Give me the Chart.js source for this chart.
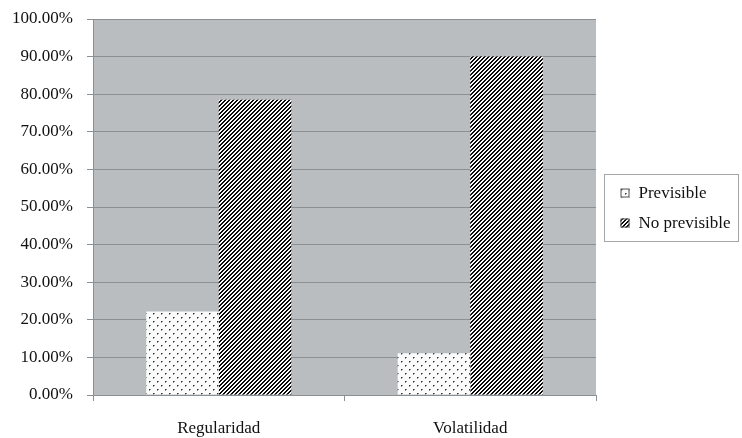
<!DOCTYPE html>
<html>
<head>
<meta charset="utf-8">
<script src="https://cdn.jsdelivr.net/npm/chart.js@4"></script>
<style>
  html, body { margin: 0; padding: 0; background: #ffffff; }
  #wrap { width: 742px; height: 438px; }
</style>
</head>
<body>
<div id="wrap"><canvas id="c" width="742" height="438"></canvas></div>
<script>
// Categories, series and axis ticks
const categories = ['Regularidad', 'Volatilidad'];
const previsible = [22.2, 11.1];
const noPrevisible = [78.5, 90.0];
const seriesNames = ['Previsible', 'No previsible'];
const yTickValues = [0, 10, 20, 30, 40, 50, 60, 70, 80, 90, 100];

const FONT = "'Liberation Serif', 'Times New Roman', serif";
const TEXT = '#111111';
const PLOT_BG = '#b9bdc0';
const GRID = '#8a9093';

// Sparse dotted fill
function dotPattern() {
  const t = document.createElement('canvas');
  t.width = 8; t.height = 8;
  const g = t.getContext('2d');
  g.fillStyle = '#fbfbfb';
  g.fillRect(0, 0, 8, 8);
  g.fillStyle = '#2e2e2e';
  g.fillRect(1, 1, 1, 1);
  g.fillRect(5, 5, 1, 1);
  g.fillStyle = '#8a8a8a';
  g.fillRect(2, 1, 1, 1);
  g.fillRect(1, 2, 1, 1);
  g.fillRect(6, 5, 1, 1);
  g.fillRect(5, 6, 1, 1);
  return g.createPattern(t, 'repeat');
}

// Dense forward-slash hatching
function hatchPattern() {
  const t = document.createElement('canvas');
  t.width = 4; t.height = 4;
  const g = t.getContext('2d');
  const img = g.createImageData(4, 4);
  for (let y = 0; y < 4; y++) {
    for (let x = 0; x < 4; x++) {
      const i = (y * 4 + x) * 4;
      const dark = ((x + y) % 4) < 2;
      const v = dark ? 10 : 250;
      img.data[i] = v; img.data[i + 1] = v; img.data[i + 2] = v; img.data[i + 3] = 255;
    }
  }
  g.putImageData(img, 0, 0);
  return g.createPattern(t, 'repeat');
}

const fills = [dotPattern(), hatchPattern()];

// Grey plot background
const plotBackground = {
  id: 'plotBackground',
  beforeDraw(chart) {
    const { ctx, chartArea: a } = chart;
    ctx.save();
    ctx.fillStyle = PLOT_BG;
    ctx.fillRect(a.left, a.top, a.right - a.left, a.bottom - a.top);
    ctx.restore();
  }
};

// Boxed legend to the right of the plot
const boxedLegend = {
  id: 'boxedLegend',
  afterDraw(chart) {
    const { ctx, chartArea: a } = chart;
    const left = a.right + 8.5;
    const w = 134;
    const h = 67;
    const mid = (a.top + a.bottom) / 2;
    const top = Math.round(mid - h / 2) + 0.5;
    ctx.save();
    ctx.strokeStyle = '#a4a7a9';
    ctx.lineWidth = 1;
    ctx.strokeRect(left, top, w, h);
    ctx.font = '17px ' + FONT;
    ctx.textBaseline = 'middle';
    chart.data.datasets.forEach((ds, i) => {
      const cy = top + 18 + i * 30;
      const sx = left + 16;
      ctx.fillStyle = ds.backgroundColor;
      ctx.fillRect(sx, cy - 4, 9, 9);
      ctx.strokeStyle = '#555';
      ctx.strokeRect(sx + 0.5, cy - 3.5, 8, 8);
      ctx.fillStyle = TEXT;
      ctx.fillText(ds.label, left + 34, cy + 1);
    });
    ctx.restore();
  }
};

new Chart(document.getElementById('c'), {
  type: 'bar',
  data: {
    labels: categories,
    datasets: [
      { label: seriesNames[0], data: previsible, backgroundColor: fills[0], borderWidth: 0 },
      { label: seriesNames[1], data: noPrevisible, backgroundColor: fills[1], borderWidth: 0 }
    ]
  },
  options: {
    responsive: false,
    animation: false,
    devicePixelRatio: 1,
    layout: { padding: { top: 0, right: 146, bottom: 0, left: 0 } },
    datasets: { bar: { categoryPercentage: 0.577, barPercentage: 1.0 } },
    plugins: {
      legend: { display: false },
      tooltip: { enabled: false }
    },
    scales: {
      x: {
        offset: true,
        afterFit(s) { s.height = 43; },
        grid: {
          offset: true,
          drawOnChartArea: false,
          drawTicks: true,
          tickLength: 6,
          color: GRID
        },
        border: { color: GRID, width: 1 },
        ticks: { color: TEXT, font: { family: FONT, size: 17 }, padding: 17 }
      },
      y: {
        min: 0,
        max: 100,
        afterFit(s) { s.width = 93; s.paddingTop = 19; },
        afterBuildTicks(s) { s.ticks = yTickValues.map(v => ({ value: v })); },
        grid: { color: GRID, tickLength: 6, drawTicks: true },
        border: { color: GRID, width: 1 },
        ticks: {
          color: TEXT,
          font: { family: FONT, size: 17 },
          padding: 14,
          callback: v => v.toFixed(2) + '%'
        }
      }
    }
  },
  plugins: [plotBackground, boxedLegend]
});
</script>
</body>
</html>
